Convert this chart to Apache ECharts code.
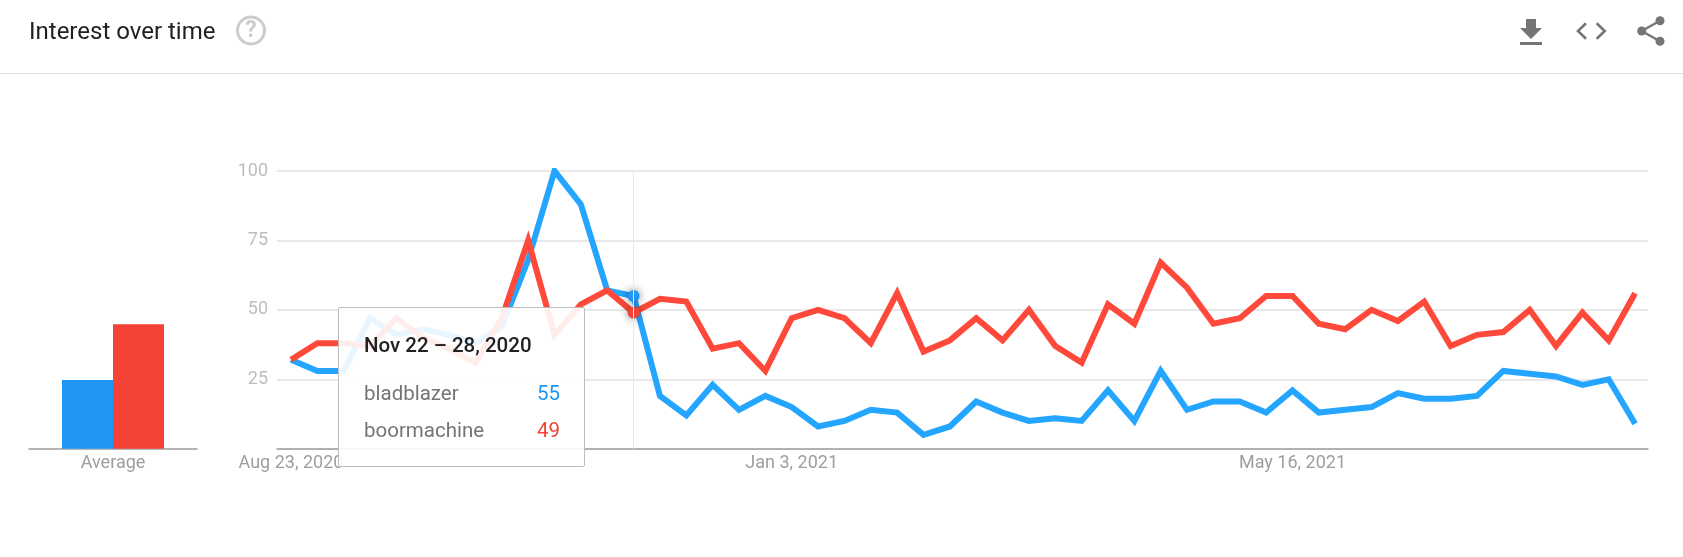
<!DOCTYPE html>
<html lang="en">
<head>
<meta charset="UTF-8">
<title>Interest over time</title>
<style>
    html, body { margin: 0; padding: 0; background: #fff; }
    #chart { width: 1683px; height: 557px; }
</style>
</head>
<body>
<div id="chart"></div>
<script src="https://cdn.jsdelivr.net/npm/echarts@6/dist/echarts.min.js"></script>
<script type="text/javascript">
// weekly values, Aug 23 2020 is week 0
var bladblazer = [32, 28, 28, 47, 41, 43, 41, 38, 44, 68, 100, 88, 57, 55, 19, 12, 23, 14, 19, 15, 8, 10, 14, 13, 5, 8, 17, 13, 10, 11, 10, 21, 10, 28, 14, 17, 17, 13, 21, 13, 14, 15, 20, 18, 18, 19, 28, 27, 26, 23, 25, 9];
var boormachine = [32, 38, 38, 37, 47, 40, 36, 31, 47, 75, 41, 52, 57, 49, 54, 53, 36, 38, 28, 47, 50, 47, 38, 56, 35, 39, 47, 39, 50, 37, 31, 52, 45, 67, 58, 45, 47, 55, 55, 45, 43, 50, 46, 53, 37, 41, 42, 50, 37, 49, 39, 56];
var averages = [24.7, 44.8];
var seriesNames = ['bladblazer', 'boormachine'];
var tickWeeks = [0, 19, 38];
var tickLabels = ['Aug 23, 2020', 'Jan 3, 2021', 'May 16, 2021'];
var hoverWeek = 13;
var hoverLabel = 'Nov 22 \u2013 28, 2020';

var BLUE = '#2196f3';
var RED = '#f44336';
var FONT = 'Roboto, sans-serif';

function toPoints(values) {
    return values.map(function (v, i) { return [i, v]; });
}

function tipRow(name, value, color) {
    return '<div style="display:flex;justify-content:space-between;height:37px;line-height:37px;color:#757575;font-size:20.5px;">'
        + '<span>' + name + '</span><span style="color:' + color + ';">' + value + '</span></div>';
}

var myChart = echarts.init(document.getElementById('chart'));

var option = {
    animation: false,
    textStyle: { fontFamily: FONT },
    title: {
        text: 'Interest over time',
        left: 24,
        top: 16,
        textStyle: { fontFamily: FONT, fontSize: 24, fontWeight: 400, color: '#212121' }
    },
    grid: [
        { left: 277, right: 35, top: 171, height: 277.7 },
        { left: 29, width: 168, top: 171, height: 277.7 }
    ],
    xAxis: [
        {
            type: 'value',
            gridIndex: 0,
            min: -0.53,
            max: 51.49,
            splitLine: { show: false },
            axisTick: { show: false },
            axisLine: { show: true, lineStyle: { color: '#9e9e9e', width: 1.5 } },
            axisLabel: {
                customValues: tickWeeks,
                color: '#9e9e9e',
                fontSize: 18,
                margin: 6,
                formatter: function (v) { return tickLabels[tickWeeks.indexOf(v)]; }
            },
            axisPointer: { show: true, label: { show: false }, lineStyle: { color: '#e8e8e8', width: 1, type: 'solid' } }
        },
        {
            type: 'category',
            gridIndex: 1,
            data: ['Average'],
            axisTick: { show: false },
            axisLine: { lineStyle: { color: '#9e9e9e', width: 1.5 } },
            axisLabel: { color: '#9e9e9e', fontSize: 18, margin: 6 }
        }
    ],
    yAxis: [
        {
            type: 'value',
            gridIndex: 0,
            min: 0,
            max: 100,
            interval: 25,
            axisLine: { show: false },
            axisTick: { show: false },
            splitLine: { lineStyle: { color: '#e0e0e0', width: 1.5 } },
            axisLabel: {
                color: '#bdbdbd',
                fontSize: 18,
                margin: 9,
                formatter: function (v) { return v === 0 ? '' : v; }
            }
        },
        {
            type: 'value',
            gridIndex: 1,
            min: 0,
            max: 100,
            show: false
        }
    ],
    tooltip: {
        trigger: 'axis',
        alwaysShowContent: true,
        transitionDuration: 0,
        position: [338, 307],
        padding: 0,
        backgroundColor: 'rgba(255,255,255,0.9)',
        borderColor: '#bdbdbd',
        borderWidth: 1,
        extraCssText: 'border-radius:2px;box-shadow:none;',
        formatter: function (params) {
            var html = '<div style="box-sizing:border-box;width:245px;height:158px;padding:22px 24px 0 25px;font-family:Roboto,sans-serif;">'
                + '<div style="font-size:20.5px;font-weight:500;color:#212121;height:40px;line-height:30px;margin-bottom:5px;">' + hoverLabel + '</div>';
            params.forEach(function (p) {
                html += tipRow(p.seriesName, p.value[1], p.color);
            });
            return html + '</div>';
        }
    },
    series: [
        {
            name: seriesNames[0],
            type: 'line',
            data: toPoints(bladblazer),
            xAxisIndex: 0,
            yAxisIndex: 0,
            showSymbol: false,
            symbol: 'circle',
            symbolSize: 12,
            color: BLUE,
            lineStyle: { color: BLUE, width: 6, join: 'miter', miterLimit: 4 },
            emphasis: {
                scale: false,
                lineStyle: { width: 6 },
                itemStyle: { shadowBlur: 8, shadowColor: 'rgba(0,0,0,0.5)' }
            }
        },
        {
            name: seriesNames[1],
            type: 'line',
            data: toPoints(boormachine),
            xAxisIndex: 0,
            yAxisIndex: 0,
            showSymbol: false,
            symbol: 'circle',
            symbolSize: 12,
            color: RED,
            lineStyle: { color: RED, width: 6, join: 'miter', miterLimit: 4 },
            emphasis: {
                scale: false,
                lineStyle: { width: 6 },
                itemStyle: { shadowBlur: 8, shadowColor: 'rgba(0,0,0,0.5)' }
            }
        },
        {
            name: seriesNames[0],
            type: 'bar',
            xAxisIndex: 1,
            yAxisIndex: 1,
            data: [averages[0]],
            barWidth: 51,
            barGap: 0,
            color: BLUE,
            silent: true
        },
        {
            name: seriesNames[1],
            type: 'bar',
            xAxisIndex: 1,
            yAxisIndex: 1,
            data: [averages[1]],
            barWidth: 51,
            barGap: 0,
            color: RED,
            silent: true
        }
    ],
    // header rule and icons
    graphic: [
        { type: 'line', shape: { x1: 0, y1: 73.5, x2: 1683, y2: 73.5 }, style: { stroke: '#e0e0e0', lineWidth: 1 } },
        { type: 'circle', shape: { cx: 251, cy: 30.5, r: 13.5 }, style: { fill: 'none', stroke: '#cccccc', lineWidth: 3 } },
        { type: 'text', style: { x: 251, y: 31.5, text: '?', align: 'center', verticalAlign: 'middle', fill: '#cccccc', font: 'bold 23px Roboto, sans-serif' } },
        { type: 'polygon', shape: { points: [[1526, 19], [1536, 19], [1536, 28], [1542, 28], [1531, 39], [1520, 28], [1526, 28]] }, style: { fill: '#757575' } },
        { type: 'rect', shape: { x: 1520, y: 42, width: 22, height: 3 }, style: { fill: '#757575' } },
        { type: 'polyline', shape: { points: [[1586, 23.3], [1578, 31], [1586, 38.7]] }, style: { fill: 'none', stroke: '#757575', lineWidth: 2.6 } },
        { type: 'polyline', shape: { points: [[1596.7, 23.3], [1604.7, 31], [1596.7, 38.7]] }, style: { fill: 'none', stroke: '#757575', lineWidth: 2.6 } },
        { type: 'polyline', shape: { points: [[1660, 20.7], [1641.7, 31], [1660, 41.3]] }, style: { fill: 'none', stroke: '#757575', lineWidth: 2.4 } },
        { type: 'circle', shape: { cx: 1660, cy: 20.7, r: 4.5 }, style: { fill: '#757575' } },
        { type: 'circle', shape: { cx: 1641.7, cy: 31, r: 4.5 }, style: { fill: '#757575' } },
        { type: 'circle', shape: { cx: 1660, cy: 41.3, r: 4.5 }, style: { fill: '#757575' } }
    ]
};

myChart.setOption(option);
myChart.dispatchAction({ type: 'showTip', seriesIndex: 0, dataIndex: hoverWeek });
</script>
</body>
</html>
